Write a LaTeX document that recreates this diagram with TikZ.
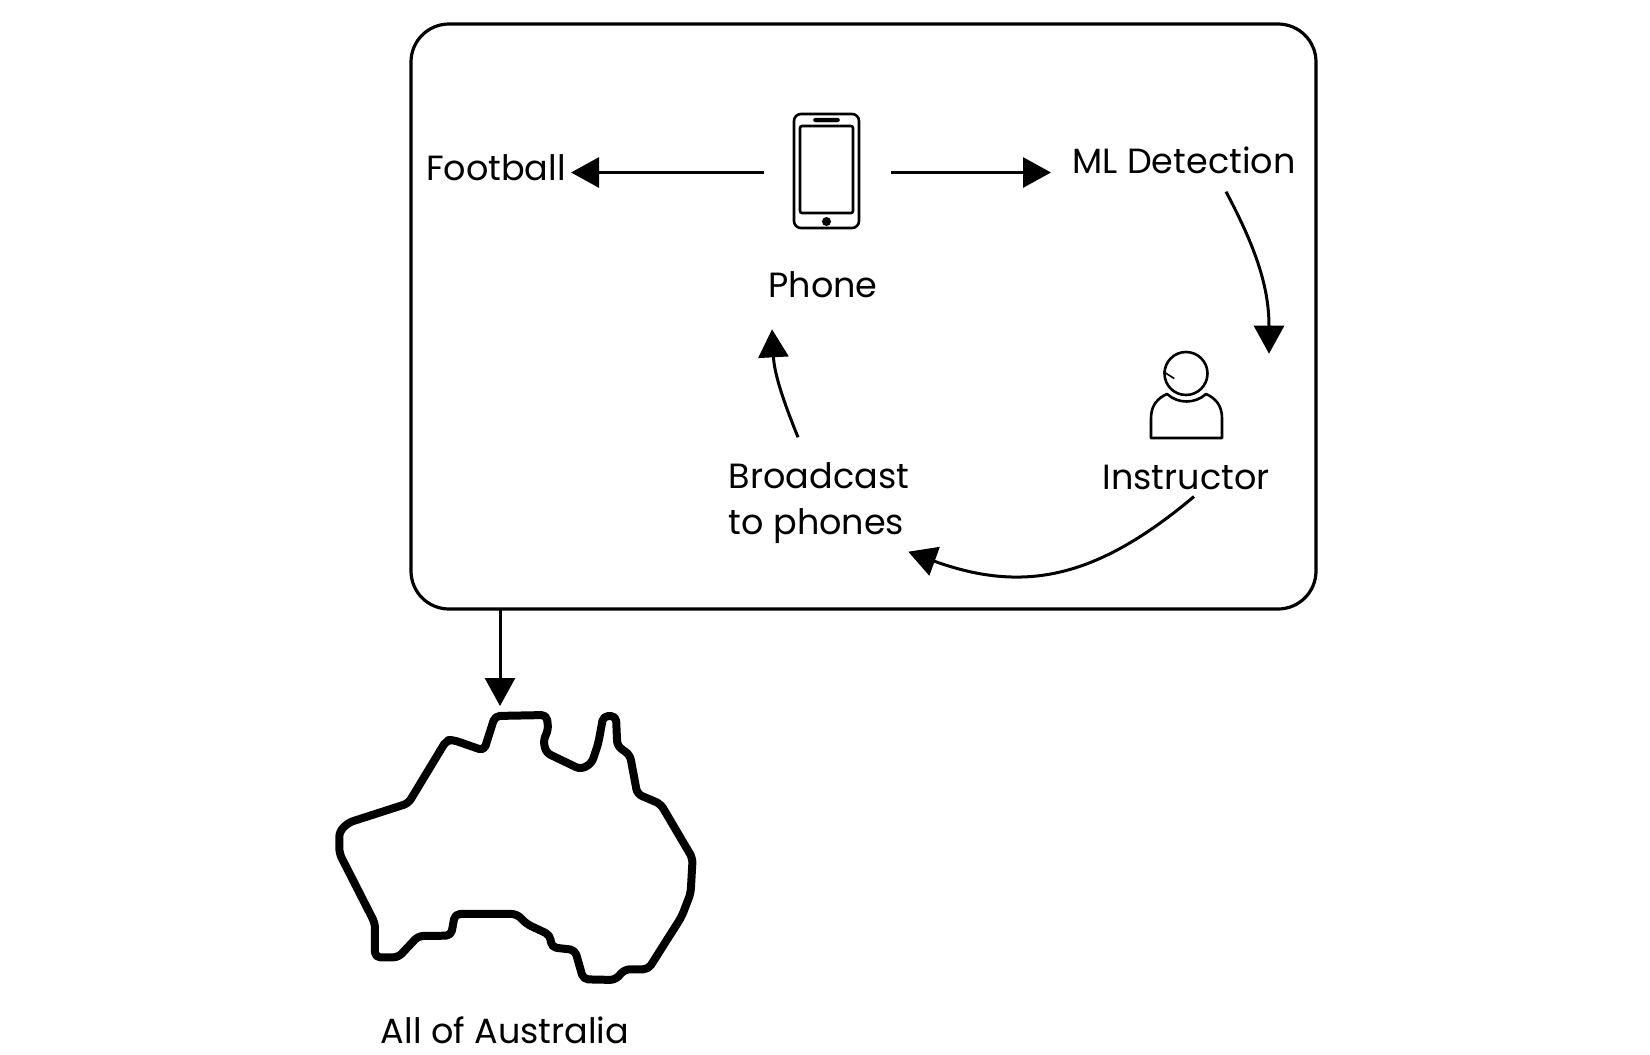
\documentclass[tikz,border=0pt]{standalone}
\usepackage{fontspec}
\setmainfont{Poppins}
\usepackage{tikz}
\usetikzlibrary{arrows.meta,positioning}

\begin{document}
\begin{tikzpicture}[
  x=1pt,y=-1pt,
  >={Triangle[length=28pt,width=30pt]},
  panel/.style={shape=rectangle,draw,line width=3.2pt,rounded corners=38pt,
    minimum width=905pt,minimum height=585pt,outer sep=0pt},
  tag/.style={inner sep=0pt,font=\fontsize{35}{46}\selectfont},
  flow/.style={->,line width=3pt},
  icon/.style={draw,line width=2.6pt,line join=round},
  coast/.style={draw,line width=8pt,line join=round,rounded corners=5pt}
]
  \useasboundingbox (0,0) rectangle (1650,1055);
  \node[panel] (casing) at (863.5,316.5) {};

  % phone icon
  \node[icon,minimum width=65pt,minimum height=114pt,rounded corners=7pt,inner sep=0pt] (handset) at (826.5,171) {};
  \node[icon,minimum width=53pt,minimum height=87pt,rounded corners=2pt,inner sep=0pt] (screen) at (826.5,169.5) {};
  \node[draw,fill,minimum width=26pt,minimum height=4pt,rounded corners=2pt,inner sep=0pt] (speaker) at (826.5,120) {};
  \node[circle,fill,minimum size=9pt,inner sep=0pt] (button) at (826.5,221.5) {};

  % person icon
  \node[icon,circle,minimum size=43pt,inner sep=0pt] (head) at (1186,373.5) {};
  \draw[line width=1.6pt] (head.west) ++(0,-2) -- ++(11,7);
  \draw[icon] (1151,438) -- (1151,418) .. controls (1151,405) and (1158,398) .. (1167,394)
    .. controls (1178,404) and (1195,404) .. (1206,394)
    .. controls (1215,398) and (1222,405) .. (1222,418) -- (1222,438) -- cycle;

  \node[tag] (football) at (496,168) {Football};
  \node[tag] (mldetect) at (1184,160) {ML Detection};
  \node[tag] (phone) at (823,285) {Phone};
  \node[tag,align=left] (broadcast) at (819,503) {Broadcast\\to phones};
  \node[tag] (instructor) at (1186,477) {Instructor};
  \node[tag] (allaus) at (505,1030) {All of Australia};

  % map outline
  \begin{scope}[shift={(320,690)},x=0.3333pt,y=-0.3333pt]
    \draw[coast] (525,78) -- (680,75) -- (685,120) -- (670,150) -- (678,188) -- (782,238)
      -- (815,220) -- (835,160) -- (850,78) -- (888,78) -- (892,168) -- (930,195)
      -- (952,312) -- (1022,342) -- (1118,505) -- (1112,610) -- (1085,680) -- (985,838)
      -- (915,838) -- (885,870) -- (790,868) -- (765,780) -- (695,772) -- (690,735)
      -- (620,702) -- (590,672) -- (405,672) -- (393,737) -- (295,738) -- (235,802)
      -- (165,802) -- (165,700) -- (58,490) -- (58,425) -- (85,398) -- (265,340)
      -- (380,150) -- (400,150) -- (492,182) -- cycle;
  \end{scope}
  \coordinate (coasttop) at (500,706);

  \draw[flow,shorten <=29pt,shorten >=5pt] (handset.west |- 0,172.5) -- (football.east |- 0,172.5);
  \draw[flow,shorten <=31pt] (handset.east |- 0,172.5) -- (1051,172.5);
  \draw[flow] ([xshift=42pt,yshift=-18pt]mldetect.south) to[out=-62,in=90] ([xshift=83pt,yshift=-3pt]head.north);
  \draw[flow] ([xshift=8pt,yshift=-7pt]instructor.south) to[out=-140,in=-20,looseness=1.1] ([xshift=-1pt,yshift=-8pt]broadcast.south east);
  \draw[flow] ([xshift=-21pt,yshift=25pt]broadcast.north) to[out=112,in=-87] ([xshift=-51pt,yshift=-31pt]phone.south);
  \draw[flow] (casing.south -| coasttop) -- (coasttop);
\end{tikzpicture}
\end{document}
